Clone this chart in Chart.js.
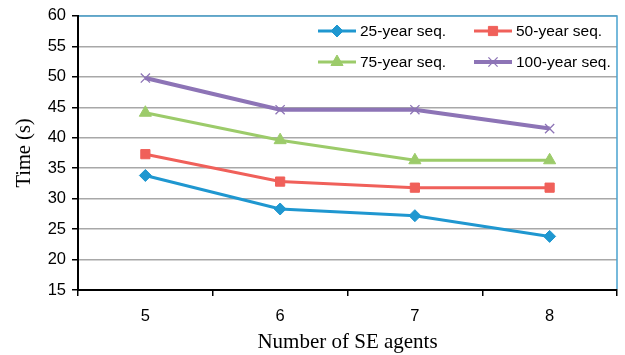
<!DOCTYPE html>
<html>
<head>
<meta charset="utf-8">
<script src="https://cdn.jsdelivr.net/npm/chart.js@4/dist/chart.umd.min.js"></script>
<style>
html,body{margin:0;padding:0;background:#fff;}
#wrap{width:625px;height:355px;}
</style>
</head>
<body>
<div id="wrap"><canvas id="c" width="625" height="355"></canvas></div>
<script>
const categories = ['5', '6', '7', '8'];
const seq25 = [33.8, 28.3, 27.2, 23.8];
const seq50 = [37.3, 32.8, 31.8, 31.8];
const seq75 = [44.1, 39.6, 36.3, 36.3];
const seq100 = [49.8, 44.6, 44.6, 41.5];
const seriesNames = ['25-year seq.', '50-year seq.', '75-year seq.', '100-year seq.'];
const yMin = 15, yMax = 60, yStep = 5;

const sans = "'Liberation Sans', Arial, sans-serif";
const serif = "'Liberation Serif', 'Times New Roman', serif";

const legendPlugin = {
  id: 'cornerLegend',
  afterDatasetsDraw(chart) {
    const ctx = chart.ctx;
    const cols = [318, 474];
    const rows = [31, 62];
    ctx.save();
    chart.data.datasets.forEach((ds, i) => {
      const x = cols[i % 2], y = rows[Math.floor(i / 2)];
      ctx.strokeStyle = ds.borderColor;
      ctx.fillStyle = ds.borderColor;
      ctx.lineWidth = ds.borderWidth;
      ctx.beginPath();
      ctx.moveTo(x, y);
      ctx.lineTo(x + 38, y);
      ctx.stroke();
      ctx.lineWidth = ds.pointBorderWidth;
      Chart.helpers.drawPoint(ctx, {
        pointStyle: ds.pointStyle,
        radius: ds.pointRadius,
        borderWidth: ds.pointBorderWidth,
        rotation: 0
      }, x + 19, y);
      ctx.fillStyle = '#000';
      ctx.font = '15.5px ' + sans;
      ctx.textBaseline = 'middle';
      ctx.textAlign = 'left';
      ctx.fillText(ds.label, x + 42, y + 1);
    });
    ctx.restore();
  }
};

const framePlugin = {
  id: 'frame',
  afterDraw(chart) {
    const {ctx, chartArea: a} = chart;
    ctx.save();
    ctx.strokeStyle = '#4aa3cf';
    ctx.lineWidth = 1.5;
    ctx.beginPath();
    ctx.moveTo(a.left + 1, a.top);
    ctx.lineTo(a.right, a.top);
    ctx.lineTo(a.right, a.bottom - 1);
    ctx.stroke();
    ctx.restore();
  }
};

function mk(label, data, color, style, radius, bw, pbw) {
  return {
    label, data,
    borderColor: color, backgroundColor: color,
    pointBackgroundColor: color, pointBorderColor: color,
    borderWidth: bw, pointStyle: style, pointRadius: radius,
    pointBorderWidth: pbw, pointHoverRadius: radius,
    tension: 0, fill: false
  };
}

new Chart(document.getElementById('c'), {
  type: 'line',
  data: {
    labels: categories,
    datasets: [
      mk(seriesNames[0], seq25, '#1f97d0', 'rectRot', 6, 3, 1),
      mk(seriesNames[1], seq50, '#f0605a', 'rect', 6.5, 3, 1),
      mk(seriesNames[2], seq75, '#9ccb6a', 'triangle', 7, 3, 1),
      mk(seriesNames[3], seq100, '#8d74b6', 'crossRot', 6.5, 4, 1.3)
    ]
  },
  options: {
    responsive: false,
    animation: false,
    events: [],
    layout: {padding: {top: 13, right: 5, left: 0, bottom: 0}},
    plugins: {legend: {display: false}, tooltip: {enabled: false}},
    scales: {
      x: {
        offset: true,
        grid: {display: true, drawOnChartArea: false, drawTicks: true, tickLength: 6, offset: true, color: '#000', tickColor: '#000', lineWidth: 1.5},
        border: {display: true, color: '#000', width: 2},
        ticks: {color: '#000', font: {family: sans, size: 16.5}, padding: 11, maxRotation: 0},
        title: {display: true, text: 'Number of SE agents', color: '#000', font: {family: serif, size: 21}, padding: {top: 0, bottom: 0}},
        afterFit(s) { s.height = 65; }
      },
      y: {
        min: yMin, max: yMax,
        ticks: {stepSize: yStep, color: '#000', font: {family: sans, size: 16.5}, padding: 6},
        grid: {color: '#a8a8a8', lineWidth: 1.5, tickColor: '#000', tickLength: 6, drawTicks: true},
        border: {display: true, color: '#000', width: 2},
        title: {display: true, text: 'Time (s)', color: '#000', font: {family: serif, size: 20.5}, padding: {top: 12, bottom: 4}},
        afterFit(s) { s.width = 78; }
      }
    }
  },
  plugins: [legendPlugin, framePlugin]
});
</script>
</body>
</html>
